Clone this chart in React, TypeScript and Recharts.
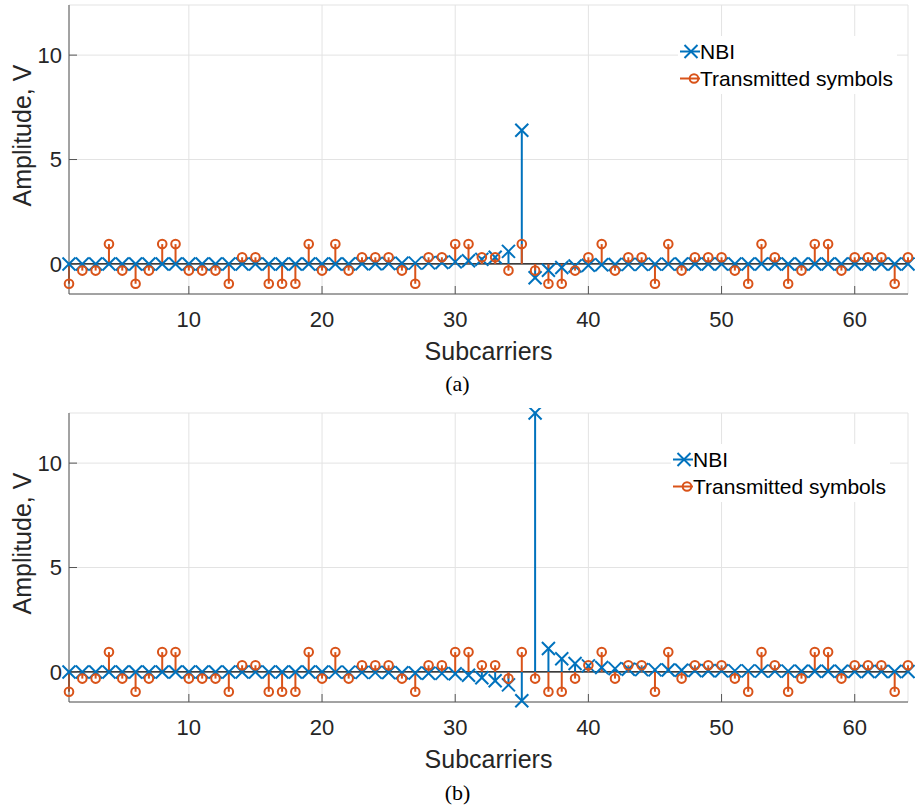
import React from "react";
import {
  ScatterChart, Scatter, XAxis, YAxis, CartesianGrid, ReferenceLine, Legend, Label,
} from "recharts";

// subcarrier index, 1..64
const subcarriers = [
  1, 2, 3, 4, 5, 6, 7, 8, 9, 10, 11, 12, 13, 14, 15, 16,
  17, 18, 19, 20, 21, 22, 23, 24, 25, 26, 27, 28, 29, 30, 31, 32,
  33, 34, 35, 36, 37, 38, 39, 40, 41, 42, 43, 44, 45, 46, 47, 48,
  49, 50, 51, 52, 53, 54, 55, 56, 57, 58, 59, 60, 61, 62, 63, 64,
];

// transmitted 16-QAM symbols (real part), same in both panels
const symbols = [
  -0.95, -0.32, -0.32, 0.95, -0.32, -0.95, -0.32, 0.95, 0.95, -0.32, -0.32, -0.32, -0.95, 0.32, 0.32, -0.95,
  -0.95, -0.95, 0.95, -0.32, 0.95, -0.32, 0.32, 0.32, 0.32, -0.32, -0.95, 0.32, 0.32, 0.95, 0.95, 0.32,
  0.32, -0.32, 0.95, -0.32, -0.95, -0.95, -0.32, 0.32, 0.95, -0.32, 0.32, 0.32, -0.95, 0.95, -0.32, 0.32,
  0.32, 0.32, -0.32, -0.95, 0.95, 0.32, -0.95, -0.32, 0.95, 0.95, -0.32, 0.32, 0.32, 0.32, -0.95, 0.32,
];

// NBI, panel (a)
const nbiA = [
  0, 0, 0, 0, 0, 0, 0, 0, 0, 0, 0, 0, 0, 0, 0, 0,
  0, 0, 0, 0, 0, 0, 0.01, 0.01, 0.02, 0.03, 0.04, 0.05, 0.07, 0.1, 0.15, 0.22,
  0.32, 0.6, 6.4, -0.66, -0.3, -0.17, -0.1, -0.06, -0.04, -0.03, -0.02, -0.02, -0.01, -0.01, 0, 0,
  0, 0, 0, 0, 0, 0, 0, 0, 0, 0, 0, 0, 0, 0, 0, 0,
];

// NBI, panel (b)
const nbiB = [
  0, 0, 0, 0, 0, 0, 0, 0, 0, 0, 0, 0, 0, 0, 0, 0,
  0, 0, 0, 0, -0.01, -0.01, -0.02, -0.02, -0.03, -0.04, -0.05, -0.06, -0.07, -0.09, -0.16, -0.28,
  -0.42, -0.62, -1.38, 12.4, 1.12, 0.63, 0.4, 0.29, 0.21, 0.16, 0.13, 0.11, 0.1, 0.09, 0.08, 0.07,
  0.06, 0.06, 0.05, 0.05, 0.04, 0.04, 0.04, 0.03, 0.03, 0.03, 0.03, 0.02, 0.02, 0.02, 0.02, 0.02,
];

const xTicks = [10, 20, 30, 40, 50, 60];
const yTicks = [0, 5, 10];

const BLUE = "#0072BD";
const ORANGE = "#D95319";
const AXIS = "#555555";
const TEXT = "#262626";
const FONT = '"Liberation Sans", Arial, Helvetica, sans-serif';

function Cross(props: any) {
  const { cx, cy } = props;
  if (cx == null || cy == null) return null;
  const s = 6.5;
  return (
    <g stroke={BLUE} strokeWidth={2}>
      <line x1={cx - s} y1={cy - s} x2={cx + s} y2={cy + s} />
      <line x1={cx - s} y1={cy + s} x2={cx + s} y2={cy - s} />
    </g>
  );
}

function Ring(props: any) {
  const { cx, cy } = props;
  if (cx == null || cy == null) return null;
  return <circle cx={cx} cy={cy} r={4.3} fill="none" stroke={ORANGE} strokeWidth={2} />;
}

function StemLegend() {
  const row = { display: "flex", alignItems: "center", height: 27 } as const;
  return (
    <div style={{ background: "#fff", padding: "2px 4px 2px 2px", fontFamily: FONT, fontSize: 21, color: "#000" }}>
      <div style={row}>
        <svg width={20} height={27}>
          <line x1={0} y1={13.5} x2={20} y2={13.5} stroke={BLUE} strokeWidth={2} />
          <Cross cx={11} cy={13.5} />
        </svg>
        <span>NBI</span>
      </div>
      <div style={row}>
        <svg width={20} height={27}>
          <line x1={0} y1={13.5} x2={20} y2={13.5} stroke={ORANGE} strokeWidth={2} />
          <Ring cx={14} cy={13.5} />
        </svg>
        <span>Transmitted symbols</span>
      </div>
    </div>
  );
}

function Panel({ nbi, legendLeft }: { nbi: number[]; legendLeft: number }) {
  const nbiPts = subcarriers.map((x, i) => ({ x, y: nbi[i] }));
  const symPts = subcarriers.map((x, i) => ({ x, y: symbols[i] }));
  const tickStyle = { fill: TEXT, fontSize: 22, fontFamily: FONT };

  return (
    <ScatterChart width={915} height={381} margin={{ top: 5, right: 7, bottom: 0, left: 0 }}>
      <CartesianGrid stroke="#e3e3e3" strokeWidth={1} />
      <XAxis
        dataKey="x" type="number" domain={[1, 64]} ticks={xTicks} interval={0}
        height={87} tickSize={-8} tickMargin={25} stroke={AXIS} tick={tickStyle}
        label={
          <Label
            content={(p: any) => (
              <text x={p.viewBox.x + p.viewBox.width / 2} y={p.viewBox.y + 66} textAnchor="middle"
                fill={TEXT} fontSize={25} fontFamily={FONT}>Subcarriers</text>
            )}
          />
        }
      />
      <XAxis xAxisId="top" orientation="top" type="number" domain={[1, 64]} ticks={xTicks}
        height={0} tick={false} tickSize={-8} stroke={AXIS} />
      <YAxis
        dataKey="y" type="number" domain={[-1.44, 12.4]} ticks={yTicks} interval={0}
        width={69} tickSize={-8} tickMargin={15} stroke={AXIS} tick={tickStyle}
        label={
          <Label
            content={(p: any) => {
              const cx = p.viewBox.x + 22;
              const cy = p.viewBox.y + p.viewBox.height / 2 - 14;
              return (
                <text x={cx} y={cy} transform={`rotate(-90, ${cx}, ${cy})`} textAnchor="middle"
                  dominantBaseline="central" fill={TEXT} fontSize={25} fontFamily={FONT}>Amplitude, V</text>
              );
            }}
          />
        }
      />
      <YAxis yAxisId="right" orientation="right" type="number" domain={[-1.44, 12.4]} ticks={yTicks}
        width={0} tick={false} tickSize={-8} stroke={AXIS} />

      <ReferenceLine y={0} stroke="#000" strokeWidth={1.2} />
      {nbiPts.map((p) => (
        <ReferenceLine key={`n${p.x}`} segment={[{ x: p.x, y: 0 }, { x: p.x, y: p.y }]}
          stroke={BLUE} strokeWidth={2} />
      ))}
      {symPts.map((p) => (
        <ReferenceLine key={`s${p.x}`} segment={[{ x: p.x, y: 0 }, { x: p.x, y: p.y }]}
          stroke={ORANGE} strokeWidth={2} />
      ))}

      <Scatter name="NBI" data={nbiPts} shape={Cross} isAnimationActive={false} />
      <Scatter name="Transmitted symbols" data={symPts} shape={Ring} isAnimationActive={false} />

      <Legend layout="vertical" align="center" verticalAlign="middle"
        wrapperStyle={{ left: legendLeft, top: 36, width: "auto" }} content={() => <StemLegend />} />
    </ScatterChart>
  );
}

export default function App() {
  const caption: React.CSSProperties = {
    position: "absolute", left: 0, width: 915, textAlign: "center",
    fontFamily: '"Liberation Serif", "DejaVu Serif", serif', fontSize: 22, lineHeight: "24px", color: "#000",
  };
  return (
    <div style={{ position: "absolute", left: 0, top: 0, width: 915, height: 812, background: "#fff" }}>
      <div style={{ position: "absolute", left: 0, top: 0 }}>
        <Panel nbi={nbiA} legendLeft={678} />
      </div>
      <div style={{ ...caption, top: 372 }}>(a)</div>
      <div style={{ position: "absolute", left: 0, top: 408 }}>
        <Panel nbi={nbiB} legendLeft={671} />
      </div>
      <div style={{ ...caption, top: 781 }}>(b)</div>
    </div>
  );
}
